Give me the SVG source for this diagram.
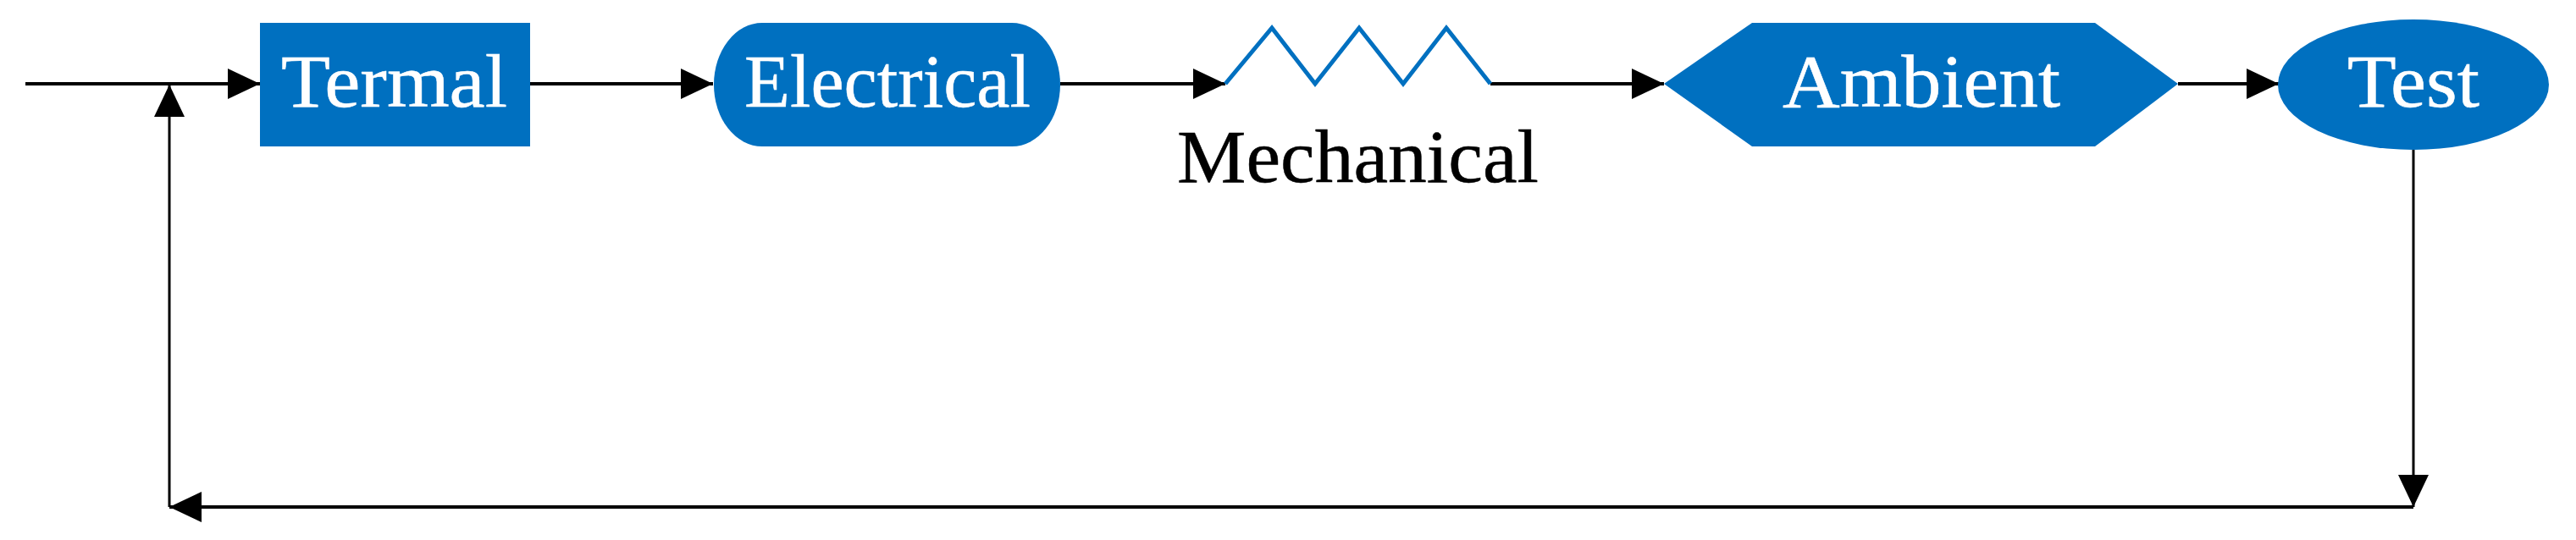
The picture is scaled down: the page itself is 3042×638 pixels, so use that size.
<svg xmlns="http://www.w3.org/2000/svg" width="3042" height="638" viewBox="0 0 3042 638">
<defs>
<marker id="arr" markerUnits="userSpaceOnUse" markerWidth="40" markerHeight="38" refX="38" refY="18" orient="auto">
<path d="M0,0 L38,18 L0,36 z" fill="#000"/>
</marker>
</defs>
<style>
.shape{fill:#0070C0;}
.lbl{font-family:"Liberation Serif","Times New Roman",serif;font-size:88px;fill:#fff;stroke:#fff;stroke-width:0.5;}
.blk{font-family:"Liberation Serif","Times New Roman",serif;font-size:88px;fill:#000;stroke:#000;stroke-width:0.5;}
.c{fill:none;stroke:#000;stroke-width:4;}
.v{fill:none;stroke:#000;stroke-width:3;}
</style>
<rect width="3042" height="638" fill="#fff"/>
<g id="connectors">
<line class="c" x1="30" y1="99" x2="307" y2="99" marker-end="url(#arr)"/>
<line class="v" x1="200" y1="599" x2="200" y2="100" marker-end="url(#arr)"/>
<line class="c" x1="626" y1="99" x2="842" y2="99" marker-end="url(#arr)"/>
<line class="c" x1="1252" y1="99" x2="1447" y2="99" marker-end="url(#arr)"/>
<line class="c" x1="1760" y1="99" x2="1965" y2="99" marker-end="url(#arr)"/>
<line class="c" x1="2572" y1="99" x2="2691" y2="99" marker-end="url(#arr)"/>
<line class="v" x1="2850" y1="177" x2="2850" y2="599" marker-end="url(#arr)"/>
<line class="c" x1="2850" y1="599" x2="200" y2="599" marker-end="url(#arr)"/>
</g>
<g id="termal">
<rect class="shape" x="307" y="27" width="319" height="146"/>
<text class="lbl" x="332" y="126" textLength="267" lengthAdjust="spacingAndGlyphs">Termal</text>
</g>
<g id="electrical">
<path class="shape" d="M900,27 H1195 A57,73 0 0 1 1252,100 A57,73 0 0 1 1195,173 H900 A57,73 0 0 1 843,100 A57,73 0 0 1 900,27 Z"/>
<text class="lbl" x="879" y="126" textLength="338" lengthAdjust="spacingAndGlyphs">Electrical</text>
</g>
<g id="mechanical">
<polyline points="1447,99 1502,33 1553,99 1605,33 1657,99 1708,33 1760,99" fill="none" stroke="#0070C0" stroke-width="5" stroke-linejoin="miter"/>
<text class="blk" x="1390" y="215" textLength="427" lengthAdjust="spacingAndGlyphs">Mechanical</text>
</g>
<g id="ambient">
<polygon class="shape" points="1965,99 2069,27 2474,27 2572,99 2474,173 2069,173"/>
<text class="lbl" x="2105" y="126" textLength="328" lengthAdjust="spacingAndGlyphs">Ambient</text>
</g>
<g id="test">
<ellipse class="shape" cx="2850" cy="100" rx="160" ry="77"/>
<text class="lbl" x="2772" y="126" textLength="156" lengthAdjust="spacingAndGlyphs">Test</text>
</g>
</svg>
